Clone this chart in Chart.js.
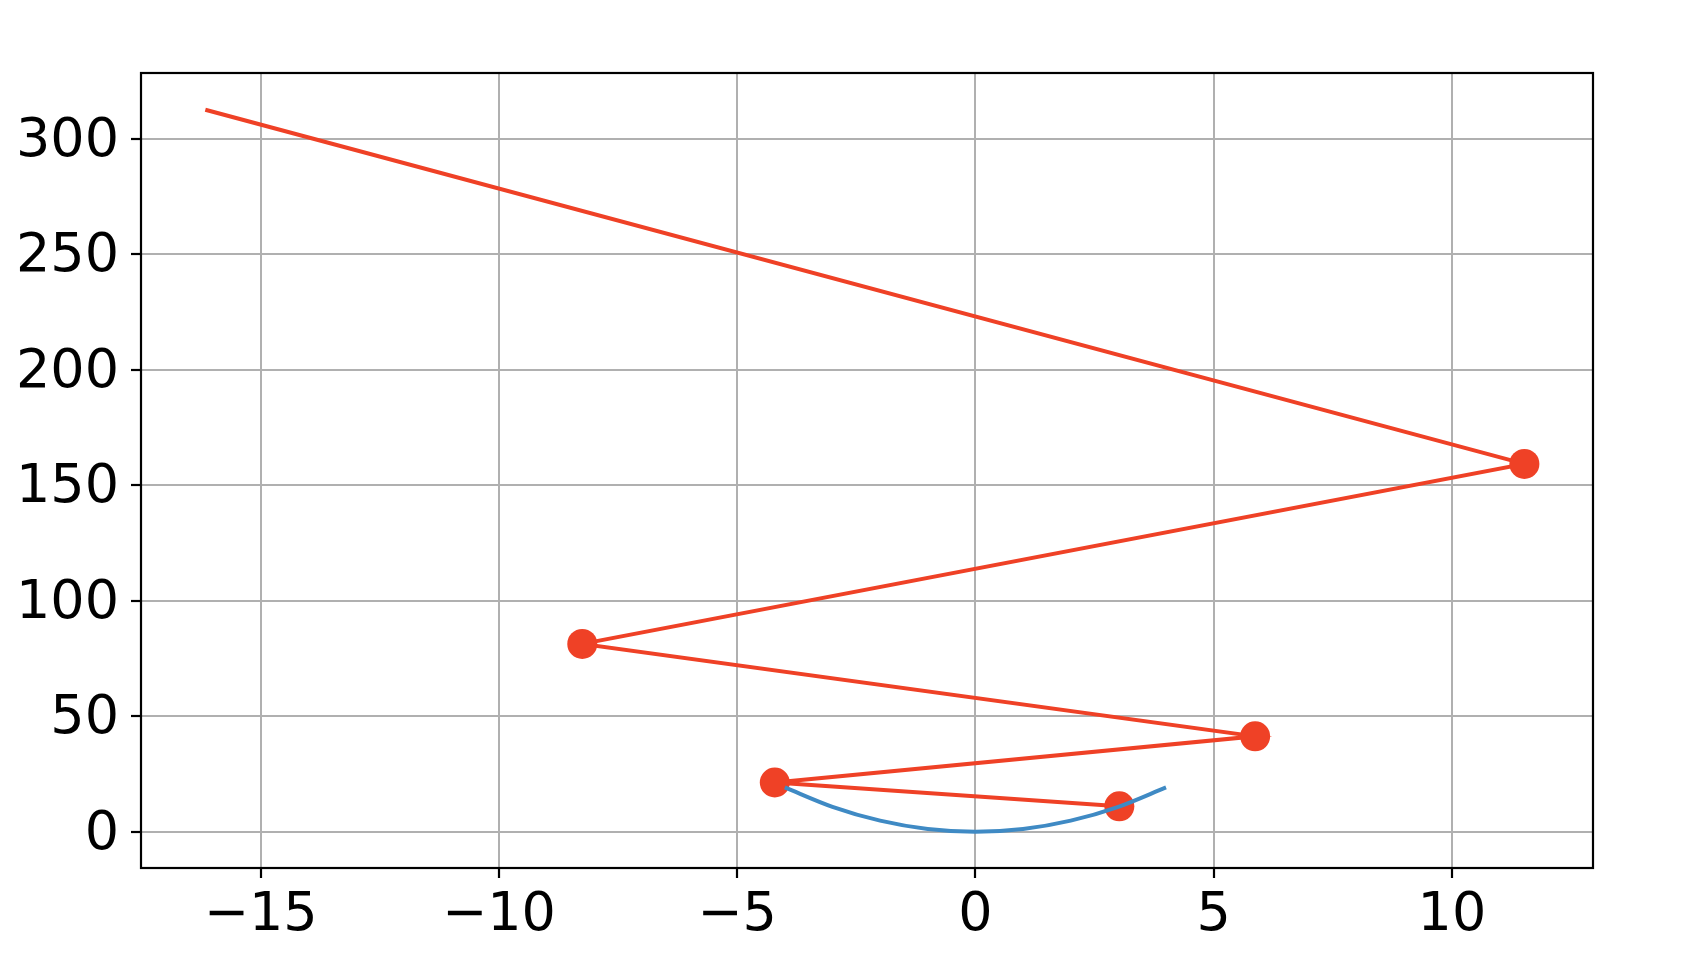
<!DOCTYPE html>
<html>
<head>
<meta charset="utf-8">
<script src="https://cdn.jsdelivr.net/npm/chart.js@4.4.1/dist/chart.umd.min.js"></script>
<style>
  html, body { margin: 0; padding: 0; background: #ffffff; }
  #wrap { width: 1688px; height: 962px; }
</style>
</head>
<body>
<div id="wrap"><canvas id="chart"></canvas></div>
<script>
// descent path (red)
const pathX = [-16.16, 11.52, -8.25, 5.87, -4.21, 3.02];
const pathY = [312.5, 159.2, 81.3, 41.3, 21.3, 11.0];
const pathRadius = [0, 15, 15, 15, 15, 15];

// curve (blue)
const curveX = [-4, -3, -2, -1, 0, 1, 2, 3, 4];
const curveY = [19.2, 10.8, 4.8, 1.2, 0, 1.2, 4.8, 10.8, 19.2];

const xTicks = [-15, -10, -5, 0, 5, 10];
const yTicks = [0, 50, 100, 150, 200, 250, 300];

const RED = "#ef4126";
const BLUE = "#3f8ac4";

const toPoints = (xs, ys) => xs.map((x, i) => ({ x, y: ys[i] }));
const fmt = (v) => (v < 0 ? "\u2212" + Math.abs(v) : String(v));

const framePlugin = {
  id: "framePlugin",
  afterDraw(chart) {
    const { ctx, chartArea } = chart;
    ctx.save();
    ctx.strokeStyle = "#000000";
    ctx.lineWidth = 2.2;
    ctx.strokeRect(chartArea.left, chartArea.top, chartArea.right - chartArea.left, chartArea.bottom - chartArea.top);
    ctx.restore();
  }
};

function axisOptions(ticks, min, max, isX) {
  return {
    type: "linear",
    min,
    max,
    afterBuildTicks(scale) {
      scale.ticks = ticks.map((value) => ({ value }));
    },
    afterFit(scale) {
      if (isX) scale.height = 94;
      else scale.width = 141;
    },
    border: { display: false },
    grid: {
      color: "#b0b0b0",
      lineWidth: 2,
      drawTicks: true,
      tickLength: 10,
      tickColor: "#000000",
      tickWidth: 2.2
    },
    ticks: {
      color: "#000000",
      font: { family: "DejaVu Sans", size: 54 },
      padding: isX ? 6 : 12,
      labelOffset: isX ? 0 : 3,
      maxRotation: 0,
      autoSkip: false,
      callback: (value) => fmt(value)
    }
  };
}

new Chart(document.getElementById("chart"), {
  type: "scatter",
  data: {
    datasets: [
      {
        label: "curve",
        data: toPoints(curveX, curveY),
        showLine: true,
        borderColor: BLUE,
        borderWidth: 4,
        pointRadius: 0,
        cubicInterpolationMode: "monotone",
        order: 0
      },
      {
        label: "path",
        data: toPoints(pathX, pathY),
        showLine: true,
        borderColor: RED,
        borderWidth: 4,
        backgroundColor: RED,
        pointBackgroundColor: RED,
        pointBorderWidth: 0,
        pointRadius: pathRadius,
        tension: 0,
        order: 1
      }
    ]
  },
  options: {
    responsive: true,
    maintainAspectRatio: false,
    animation: false,
    layout: { padding: { top: 73, right: 95, bottom: 0, left: 0 } },
    plugins: {
      legend: { display: false },
      tooltip: { enabled: false }
    },
    scales: {
      x: axisOptions(xTicks, -17.51, 12.96, true),
      y: axisOptions(yTicks, -15.7, 328.4, false)
    }
  },
  plugins: [framePlugin]
});
</script>
</body>
</html>
